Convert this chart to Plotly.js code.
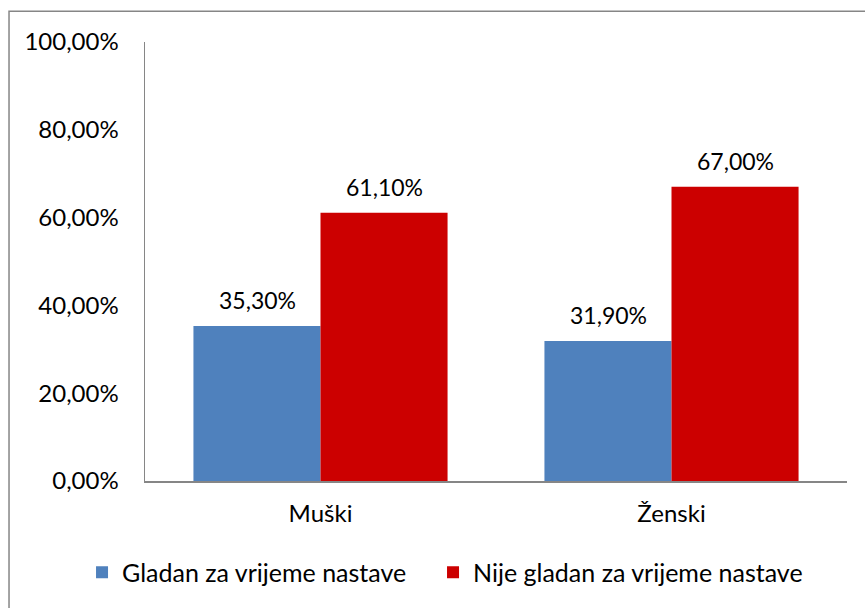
<!DOCTYPE html>
<html>
<head>
<meta charset="utf-8">
<script src="https://cdn.plot.ly/plotly-3.0.1.min.js"></script>
<style>html,body{margin:0;padding:0;background:#fff;}#chart{width:865px;height:608px;}</style>
</head>
<body>
<div id="chart"></div>
<script>
const categories = ["Muški", "Ženski"];
const seriesNames = ["Gladan za vrijeme nastave", "Nije gladan za vrijeme nastave"];
const gladan = [35.3, 31.9];
const nijeGladan = [61.1, 67.0];
const yTicks = [0, 20, 40, 60, 80, 100];

const FONT = "Lato, 'Open Sans', sans-serif";
const fmt = v => v.toFixed(2).replace(".", ",") + "%";

const traces = [
  {type: "bar", name: seriesNames[0], x: categories, y: gladan,
   marker: {color: "#4F81BD"}, hoverinfo: "none", legend: "legend"},
  {type: "bar", name: seriesNames[1], x: categories, y: nijeGladan,
   marker: {color: "#CC0000"}, hoverinfo: "none", legend: "legend2"}
];

const annotations = [];
[gladan, nijeGladan].forEach((vals, si) => {
  vals.forEach((v, ci) => {
    annotations.push({x: categories[ci], y: v, xref: "x", yref: "y",
      text: fmt(v), showarrow: false, xshift: si === 0 ? -63.5 : 63.5,
      yanchor: "middle", yshift: 26,
      font: {family: FONT, size: 23, color: "#000"}});
  });
});

const legendBase = {orientation: "h", xanchor: "left", y: -0.2086, yanchor: "middle",
  font: {family: FONT, size: 25, color: "#000"}, itemwidth: 30, bgcolor: "rgba(0,0,0,0)"};

const layout = {
  width: 865, height: 608,
  margin: {l: 145, r: 18, t: 42, b: 125},
  paper_bgcolor: "#fff", plot_bgcolor: "#fff",
  font: {family: FONT, size: 24, color: "#000"},
  barmode: "group", bargap: 0.276, bargroupgap: 0,
  showlegend: true,
  legend: Object.assign({}, legendBase, {x: -0.0897}),
  legend2: Object.assign({}, legendBase, {x: 0.4103}),
  xaxis: {showline: true, linecolor: "#868686", linewidth: 2, ticks: "", showgrid: false,
          zeroline: false, tickfont: {family: FONT, size: 24}, ticklabelstandoff: 10},
  yaxis: {range: [0, 100], tickmode: "array", tickvals: yTicks, ticktext: yTicks.map(fmt),
          showline: true, linecolor: "#868686", linewidth: 1.5, ticks: "", showgrid: false,
          zeroline: false, tickfont: {family: FONT, size: 24}, ticklabelstandoff: 20},
  annotations: annotations,
  shapes: [{type: "rect", xref: "paper", yref: "paper",
            x0: -0.1937, x1: 1.06, y0: -0.31, y1: 1.0703,
            line: {color: "#868686", width: 1.5}, fillcolor: "rgba(0,0,0,0)", layer: "below"}]
};

Plotly.newPlot("chart", traces, layout, {displayModeBar: false, staticPlot: true});
</script>
</body>
</html>
